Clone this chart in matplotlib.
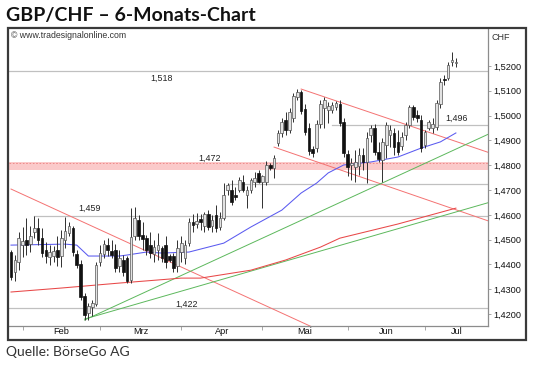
import numpy as np
import matplotlib
matplotlib.use("Agg")
import matplotlib.pyplot as plt
from matplotlib.patches import Rectangle
from matplotlib.ticker import FixedLocator, FuncFormatter

# ----- daily candles GBP/CHF ----- #
opens = [1.4450, 1.4369, 1.4410, 1.4478, 1.4498, 1.4482, 1.4531, 1.4547, 1.4506, 1.4458,
         1.4430, 1.4434, 1.4458, 1.4434, 1.4498, 1.4527, 1.4547, 1.4442, 1.4402, 1.4273,
         1.4204, 1.4228, 1.4240, 1.4410, 1.4442, 1.4478, 1.4454, 1.4458, 1.4394, 1.4418,
         1.4426, 1.4337, 1.4515, 1.4579, 1.4519, 1.4506, 1.4478, 1.4442, 1.4458, 1.4466,
         1.4478, 1.4434, 1.4434, 1.4394, 1.4450, 1.4426, 1.4486, 1.4571, 1.4563, 1.4583,
         1.4555, 1.4603, 1.4555, 1.4599, 1.4551, 1.4587, 1.4700, 1.4700, 1.4680, 1.4700,
         1.4732, 1.4680, 1.4700, 1.4732, 1.4769, 1.4732, 1.4732, 1.4801, 1.4789, 1.4890,
         1.4930, 1.4982, 1.4942, 1.4990, 1.5075, 1.5095, 1.5027, 1.4950, 1.4865, 1.4869,
         1.4966, 1.5031, 1.5023, 1.5023, 1.5035, 1.5047, 1.4974, 1.4845, 1.4801, 1.4793,
         1.4797, 1.4841, 1.4813, 1.4922, 1.4950, 1.4853, 1.4821, 1.4881, 1.4922, 1.4930,
         1.4894, 1.4877, 1.4922, 1.4962, 1.5035, 1.5002, 1.4982, 1.4881, 1.4950, 1.4950,
         1.4954, 1.5047, 1.5148, 1.5152, 1.5216, 1.5212]
highs = [1.4458, 1.4438, 1.4531, 1.4551, 1.4587, 1.4555, 1.4597, 1.4587, 1.4547, 1.4490,
         1.4478, 1.4474, 1.4515, 1.4539, 1.4591, 1.4571, 1.4555, 1.4458, 1.4418, 1.4285,
         1.4244, 1.4256, 1.4410, 1.4478, 1.4498, 1.4506, 1.4498, 1.4482, 1.4458, 1.4438,
         1.4434, 1.4627, 1.4631, 1.4599, 1.4571, 1.4519, 1.4531, 1.4498, 1.4527, 1.4474,
         1.4515, 1.4442, 1.4446, 1.4498, 1.4515, 1.4498, 1.4587, 1.4603, 1.4607, 1.4603,
         1.4611, 1.4619, 1.4599, 1.4640, 1.4611, 1.4728, 1.4728, 1.4740, 1.4712, 1.4752,
         1.4760, 1.4716, 1.4748, 1.4773, 1.4781, 1.4760, 1.4817, 1.4809, 1.4841, 1.4942,
         1.4990, 1.5015, 1.5031, 1.5091, 1.5107, 1.5103, 1.5047, 1.4970, 1.4877, 1.4982,
         1.5063, 1.5075, 1.5055, 1.5055, 1.5059, 1.5063, 1.4990, 1.4861, 1.4829, 1.4861,
         1.4869, 1.4869, 1.4934, 1.4962, 1.4966, 1.4894, 1.4910, 1.4974, 1.4962, 1.4950,
         1.4942, 1.4934, 1.4974, 1.5043, 1.5043, 1.5023, 1.5002, 1.4942, 1.4982, 1.4990,
         1.5063, 1.5152, 1.5164, 1.5216, 1.5256, 1.5232]
lows = [1.4337, 1.4333, 1.4377, 1.4430, 1.4438, 1.4450, 1.4506, 1.4478, 1.4430, 1.4406,
        1.4398, 1.4410, 1.4394, 1.4390, 1.4466, 1.4515, 1.4434, 1.4385, 1.4256, 1.4176,
        1.4176, 1.4192, 1.4232, 1.4394, 1.4426, 1.4434, 1.4426, 1.4369, 1.4369, 1.4353,
        1.4325, 1.4325, 1.4498, 1.4498, 1.4458, 1.4438, 1.4426, 1.4410, 1.4418, 1.4410,
        1.4385, 1.4410, 1.4369, 1.4369, 1.4410, 1.4402, 1.4474, 1.4531, 1.4547, 1.4539,
        1.4531, 1.4539, 1.4531, 1.4531, 1.4539, 1.4579, 1.4680, 1.4640, 1.4660, 1.4692,
        1.4692, 1.4627, 1.4688, 1.4712, 1.4728, 1.4627, 1.4720, 1.4781, 1.4748, 1.4877,
        1.4914, 1.4922, 1.4930, 1.4974, 1.5063, 1.5006, 1.4922, 1.4841, 1.4833, 1.4853,
        1.4950, 1.4950, 1.4970, 1.5010, 1.5023, 1.4958, 1.4833, 1.4756, 1.4740, 1.4732,
        1.4760, 1.4781, 1.4728, 1.4894, 1.4841, 1.4813, 1.4732, 1.4829, 1.4873, 1.4841,
        1.4841, 1.4861, 1.4902, 1.4950, 1.4982, 1.4974, 1.4853, 1.4869, 1.4942, 1.4930,
        1.4942, 1.5031, 1.5123, 1.5144, 1.5200, 1.5196]
closes = [1.4349, 1.4418, 1.4506, 1.4494, 1.4478, 1.4515, 1.4547, 1.4498, 1.4446, 1.4434,
          1.4450, 1.4454, 1.4430, 1.4506, 1.4535, 1.4555, 1.4450, 1.4398, 1.4269, 1.4196,
          1.4232, 1.4244, 1.4398, 1.4446, 1.4482, 1.4458, 1.4438, 1.4385, 1.4426, 1.4369,
          1.4333, 1.4510, 1.4587, 1.4515, 1.4502, 1.4458, 1.4446, 1.4470, 1.4478, 1.4426,
          1.4410, 1.4418, 1.4385, 1.4466, 1.4486, 1.4478, 1.4571, 1.4559, 1.4575, 1.4571,
          1.4603, 1.4551, 1.4579, 1.4547, 1.4587, 1.4680, 1.4720, 1.4652, 1.4672, 1.4740,
          1.4700, 1.4700, 1.4740, 1.4748, 1.4732, 1.4756, 1.4801, 1.4789, 1.4829, 1.4930,
          1.4974, 1.4942, 1.5015, 1.5079, 1.5095, 1.5019, 1.4934, 1.4857, 1.4849, 1.4966,
          1.5047, 1.5063, 1.5039, 1.5043, 1.5051, 1.4970, 1.4849, 1.4793, 1.4809, 1.4813,
          1.4841, 1.4813, 1.4910, 1.4950, 1.4853, 1.4825, 1.4894, 1.4962, 1.4942, 1.4873,
          1.4853, 1.4914, 1.4962, 1.5035, 1.4994, 1.4990, 1.4869, 1.4934, 1.4974, 1.4966,
          1.5051, 1.5135, 1.5144, 1.5204, 1.5224, 1.5216]

# moving averages, sampled at candle index
ma_fast_idx = [0, 14, 17, 20, 28, 30, 35, 39, 46, 55, 62, 70, 75, 79, 82, 86, 93, 100, 106, 111, 115]
ma_fast = [1.4478, 1.4482, 1.4478, 1.4434, 1.4434, 1.4438, 1.4450, 1.4446, 1.4450, 1.4486, 1.4551,
           1.4619, 1.4688, 1.4728, 1.4769, 1.4801, 1.4813, 1.4833, 1.4869, 1.4894, 1.4930]
ma_slow_idx = [0, 13, 28, 44, 49, 62, 71, 80, 85, 100, 115]
ma_slow = [1.4289, 1.4305, 1.4325, 1.4345, 1.4345, 1.4377, 1.4418, 1.4470, 1.4506, 1.4563, 1.4627]

# trend lines: (start index, start price), (second index, second price)
red_trends = [((0, 1.4704), (77, 1.4154)),
              ((75, 1.5107), (111, 1.4917)),
              ((68, 1.4873), (111, 1.4642))]
green_trends = [((19, 1.4176), (110, 1.4829)),
                ((19, 1.4180), (110, 1.4589))]

# horizontal levels
levels = [1.5181, 1.4964, 1.4724, 1.4597, 1.4224]
level_start = [-1, 83, 56, 6, -1]
level_text = ['1,518', '1,496', '1,472', '1,459', '1,422']
band_lo, band_hi = 1.4781, 1.4812

months = ['Feb', 'Mrz', 'Apr', 'Mai', 'Jun', 'Jul']
month_start = [3, 23, 44, 65, 87, 107]

W, H = 535, 365
fig = plt.figure(figsize=(W / 100, H / 100), dpi=100)
ax = fig.add_axes([9 / W, 1 - 326 / H, 479 / W, 298 / H])
xmin, xmax = -0.52, 123.3
ax.set_xlim(xmin, xmax)
ax.set_ylim(1.4152, 1.5353)

# ----- band and level lines ----- #
ax.axhspan(band_lo, band_hi, color='#fbcaca', lw=0, zorder=0)
ax.axhline(band_hi - 0.0004, color='#ee8080', lw=0.6, ls=(0, (2, 2)), zorder=0.5)
for lv, st in zip(levels, level_start):
    ax.plot([max(st, xmin), xmax], [lv, lv], color='#c0c0c0', lw=0.9, zorder=1)

label_pos = [(38.8, 1.5150), (115.2, 1.4989), (51.4, 1.4826), (20.4, 1.4627), (45.5, 1.4241)]
for (lx, ly), t in zip(label_pos, level_text):
    ax.text(lx, ly, t, ha='center', va='center', fontsize=6.4,
            family='Liberation Sans', color='#222', zorder=6)

# ----- trend lines ----- #
def extend(p1, p2):
    s = (p2[1] - p1[1]) / (p2[0] - p1[0])
    x0 = max(p1[0], xmin)
    return [x0, xmax], [p1[1] + s * (x0 - p1[0]), p1[1] + s * (xmax - p1[0])]

for p1, p2 in red_trends:
    xs, ys = extend(p1, p2)
    ax.plot(xs, ys, color='#f47272', lw=0.7, zorder=2)
for p1, p2 in green_trends:
    xs, ys = extend(p1, p2)
    ax.plot(xs, ys, color='#5cb85c', lw=0.7, zorder=2)

ax.plot(ma_slow_idx, ma_slow, color='#e84848', lw=0.75, zorder=2)
ax.plot(ma_fast_idx, ma_fast, color='#5a5af0', lw=0.75, zorder=2)

# ----- candles ----- #
o = np.array(opens); h = np.array(highs); l = np.array(lows); c = np.array(closes)
x = np.arange(len(c))
ax.vlines(x, l, h, color='#303030', lw=0.7, zorder=3)
up = c >= o
bottom = np.minimum(o, c)
height = np.maximum(np.abs(c - o), 0.0003)
ax.bar(x[up], height[up], bottom=bottom[up], width=0.68, color='#e2e2e2',
       edgecolor='#555555', lw=0.5, zorder=4)
ax.bar(x[~up], height[~up], bottom=bottom[~up], width=0.68, color='#111111',
       edgecolor='#111111', lw=0.5, zorder=4)

# ----- axes styling ----- #
for s in ['top', 'left']:
    ax.spines[s].set_visible(False)
for s in ['right', 'bottom']:
    ax.spines[s].set_color('#8c8c8c')
    ax.spines[s].set_linewidth(0.9)

ax.yaxis.tick_right()
ax.set_yticks(np.arange(1.42, 1.5201, 0.01))
ax.yaxis.set_major_formatter(FuncFormatter(lambda v, p: f'{v:.4f}'.replace('.', ',')))
ax.tick_params(axis='y', direction='out', length=2, width=0.6, color='#999', pad=2,
               labelsize=6.6, labelcolor='#111')

centers = [(month_start[k] + (month_start[k + 1] if k + 1 < len(month_start) else xmax)) / 2
           for k in range(len(month_start))]
ax.xaxis.set_major_locator(FixedLocator(month_start))
ax.xaxis.set_major_formatter(FuncFormatter(lambda v, p: ''))
ax.xaxis.set_minor_locator(FixedLocator(centers))
ax.set_xticklabels(months, minor=True)
ax.tick_params(axis='x', which='major', direction='out', length=3, width=0.6, color='#999')
ax.tick_params(axis='x', which='minor', length=0, pad=1, labelsize=6.6, labelcolor='#111')
for t in ax.get_xticklabels(minor=True) + ax.get_yticklabels():
    t.set_family('Liberation Sans')

# ----- frame and texts ----- #
fig.add_artist(Rectangle((8 / W, 1 - 340 / H), 518 / W, 312 / H, transform=fig.transFigure,
                         fill=False, ec='#3a3a3a', lw=1.6))
fig.text(6 / W, 1 - 15 / H, 'GBP/CHF \u2013 6-Monats-Chart', fontsize=14, fontweight='bold',
         family='Lato', va='center', color='#111')
fig.text(6 / W, 1 - 352 / H, 'Quelle: BörseGo AG', fontsize=10, family='Lato',
         va='center', color='#333')
fig.text(11 / W, 1 - 35 / H, '\u00a9 www.tradesignalonline.com', fontsize=6.3,
         family='Liberation Sans', va='center', color='#333')
fig.text(492 / W, 1 - 37 / H, 'CHF', fontsize=6.5, family='Liberation Sans', va='center',
         color='#333')

fig.savefig('out.png', dpi=100)
